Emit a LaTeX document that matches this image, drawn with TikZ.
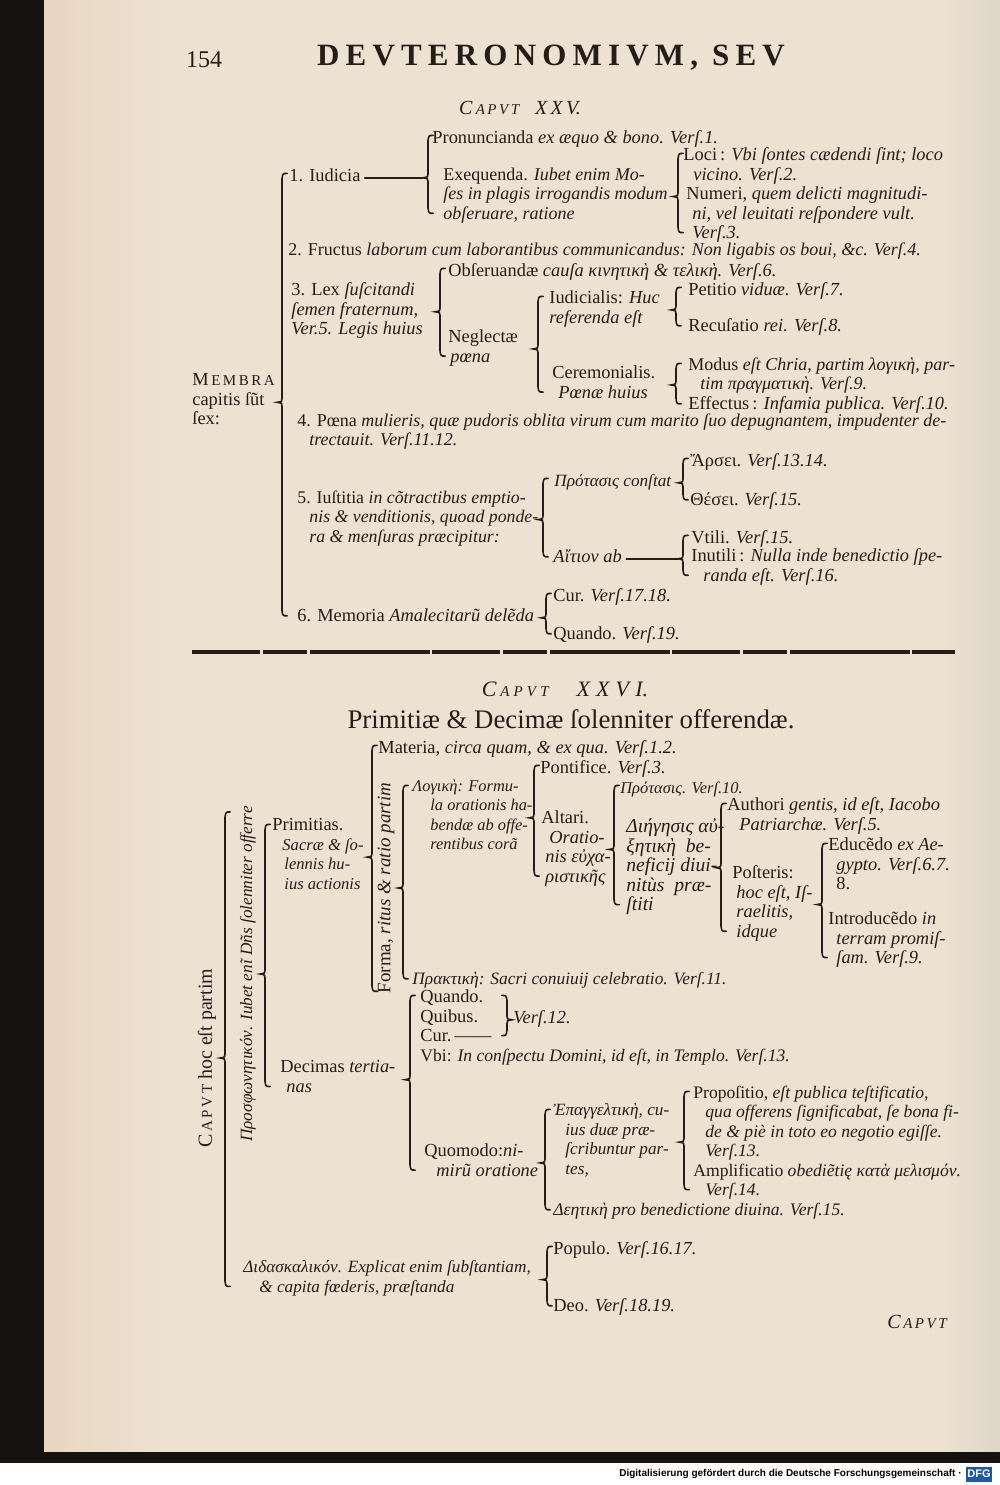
\documentclass[tikz,border=0pt]{standalone}
\usepackage{fontspec}
\setmainfont{Liberation Serif}
\newfontfamily\footfont{Liberation Sans}
\usepackage{tikz}
\usetikzlibrary{calc}

\definecolor{paper}{RGB}{237,226,210}
\definecolor{ink}{RGB}{38,28,24}
\definecolor{spine}{RGB}{22,18,16}
\definecolor{dfgblue}{RGB}{28,88,168}

% brace: x, top anchor, bottom anchor, tip anchor
\newcommand\lbrc[4]{%
  \draw[brc] let \p4=(#1,0), \p1=(#2), \p2=(#3), \p3=(#4) in
    (\x4+2.6pt,\y1-3pt) .. controls (\x4+0.4pt,\y1-3pt) .. (\x4,\y1-5.6pt)
    -- (\x4,\y3+1.8pt) .. controls (\x4,\y3+0.4pt) .. (\x4-2.4pt,\y3)
    .. controls (\x4,\y3-0.4pt) .. (\x4,\y3-1.8pt)
    -- (\x4,\y2+8.8pt) .. controls (\x4+0.4pt,\y2+6.2pt) .. (\x4+2.6pt,\y2+6.2pt);}
\newcommand\rbrc[4]{%
  \draw[brc] let \p4=(#1,0), \p1=(#2), \p2=(#3), \p3=(#4) in
    (\x4-2.6pt,\y1-3pt) .. controls (\x4-0.4pt,\y1-3pt) .. (\x4,\y1-5.6pt)
    -- (\x4,\y3+1.8pt) .. controls (\x4,\y3+0.4pt) .. (\x4+2.4pt,\y3)
    .. controls (\x4,\y3-0.4pt) .. (\x4,\y3-1.8pt)
    -- (\x4,\y2+8.8pt) .. controls (\x4-0.4pt,\y2+6.2pt) .. (\x4-2.6pt,\y2+6.2pt);}
\newcommand\smcap[1]{{\fontsize{7.5}{8}\selectfont #1}}
\newcommand\fs[1]{\fontsize{#1}{9.75}\selectfont}

\begin{document}
\begin{tikzpicture}[ x = 0.5pt, y = -0.5pt
                     , every node/.style = { inner sep = 0pt, text = ink }
                     , txt/.style = { anchor = north west
                                    , align = left
                                    , yshift = 3.8pt
                                    , font = \fs{9.2}
                                    , execute at begin node = \rule{0pt}{7pt}
                                    , execute at end node = \rule[-3pt]{0pt}{3pt} }
                     , vtxt/.style = { anchor = center, rotate = 90, font = \fs{9.5} }
                     , brc/.style = { draw = ink, line width = 0.8pt, line cap = round }
                     ]

  \useasboundingbox (0,0) rectangle (1000,1485);

  % page
  \fill[paper] (0,0) rectangle (1000,1452);
  \shade[left color = paper!88!brown, right color = paper] (44,0) rectangle (170,1452);
  \shade[left color = paper, right color = paper!88!gray] (940,0) rectangle (1000,1452);
  \fill[spine] (0,0) rectangle (44,1463);
  \fill[spine] (0,1452) rectangle (1000,1463);
  \fill[white] (0,1463) rectangle (1000,1485);
  \node[anchor = east, text = black, font = \footfont\bfseries\fontsize{5}{6}\selectfont]
    (dfgtext) at (962,1474) {Digitalisierung gefördert durch die Deutsche Forschungsgemeinschaft ·};
  \node[fill = dfgblue, text = white, minimum width = 13pt, minimum height = 7.5pt,
        font = \footfont\bfseries\fontsize{5.5}{6}\selectfont] (dfglogo) at (979,1474) {DFG};

  % running head
  \node[font = \fontsize{12}{12}\selectfont] (pageno) at (204,60) {154};
  \node[font = \bfseries\fontsize{15.5}{16}\selectfont\addfontfeature{LetterSpace=20}] (runhead) at (551,58)
    {DEVTERONOMIVM, SEV};

  % Caput XXV
  \node[font = \itshape\fontsize{10}{10}\selectfont] (cap25) at (520,108)
    {C\,\smcap{A\,P\,V\,T}\hspace{8pt}X\,X\,V.};

  \node[txt] (membra) at (192,381) {M\smcap{\,E\,M\,B\,R\,A}\\capitis ſũt\\ſex:};
  \node[txt] (i1) at (289,175) {1. Iudicia};
  \node[txt] (pron) at (432,137) {Pronuncianda \textit{ex æquo \& bono. Verſ.1.}};
  \node[txt, font = \fs{9}] (exeq) at (443,175) {Exequenda. \textit{Iubet enim Mo-}\\\textit{ſes in plagis irrogandis modum}\\\textit{obſeruare, ratione}};
  \node[txt] (loci) at (683,155) {Loci\,: \textit{Vbi ſontes cædendi ſint; loco}\\\hspace*{5pt}\textit{vicino. Verſ.2.}};
  \node[txt] (numeri) at (686,194) {Numeri, \textit{quem delicti magnitudi-}\\\hspace*{3pt}\textit{ni, vel leuitati reſpondere vult.}\\\hspace*{3pt}\textit{Verſ.3.}};
  \node[txt, font = \fs{9}] (i2) at (288,249) {2. Fructus \textit{laborum cum laborantibus communicandus: Non ligabis os boui, \&c. Verſ.4.}};
  \node[txt] (lex) at (291,290) {3. Lex \textit{ſuſcitandi}\\\textit{ſemen fraternum,}\\\textit{Ver.5. Legis huius}};
  \node[txt] (obs) at (448,270) {Obſeruandæ \textit{cauſa κινητικὴ \& τελικὴ. Verſ.6.}};
  \node[txt] (negl) at (448,337) {Neglectæ\\\hspace*{1pt}\textit{pœna}};
  \node[txt] (iudic) at (549,298) {Iudicialis: \textit{Huc}\\\textit{referenda eſt}};
  \node[txt] (petit) at (688,289) {Petitio \textit{viduæ. Verſ.7.}};
  \node[txt] (recus) at (688,325) {Recuſatio \textit{rei. Verſ.8.}};
  \node[txt] (cerem) at (552,373) {Ceremonialis.\\\hspace*{3pt}\textit{Pœnæ huius}};
  \node[txt, font = \fs{9}] (modus) at (688,365) {Modus \textit{eſt Chria, partim λογικὴ, par-}\\\hspace*{6pt}\textit{tim πραγματικὴ. Verſ.9.}};
  \node[txt] (effect) at (688,403) {Effectus\,: \textit{Infamia publica. Verſ.10.}};
  \node[txt, font = \fs{9}] (i4) at (297,421) {4. Pœna \textit{mulieris, quæ pudoris oblita virum cum marito ſuo depugnantem, impudenter de-}\\\hspace*{6pt}\textit{trectauit. Verſ.11.12.}};
  \node[txt, font = \fs{8.9}] (i5) at (297,498) {5. Iuſtitia \textit{in cõtractibus emptio-}\\\hspace*{6pt}\textit{nis \& venditionis, quoad ponde-}\\\hspace*{6pt}\textit{ra \& menſuras præcipitur:}};
  \node[txt, font = \fs{8.6}] (prot) at (554,480) {\textit{Πρότασις conſtat}};
  \node[txt] (arsi) at (690,460) {Ἄρσει. \textit{Verſ.13.14.}};
  \node[txt] (thesi) at (690,499) {Θέσει. \textit{Verſ.15.}};
  \node[txt] (aition) at (553,556) {\textit{Αἴτιον ab}};
  \node[txt] (utili) at (691,537) {Vtili. \textit{Verſ.15.}};
  \node[txt] (inutili) at (691,556) {Inutili\,: \textit{Nulla inde benedictio ſpe-}\\\hspace*{6pt}\textit{randa eſt. Verſ.16.}};
  \node[txt] (i6) at (297,615) {6. Memoria \textit{Amalecitarũ delẽda}};
  \node[txt] (cur) at (553,595) {Cur. \textit{Verſ.17.18.}};
  \node[txt] (quand) at (553,633) {Quando. \textit{Verſ.19.}};

  \lbrc{282}{i1.north}{i6.south}{membra.east}
  \lbrc{428}{pron.north}{exeq.south}{i1.east}
  \lbrc{678}{loci.north}{numeri.south}{exeq.east}
  \lbrc{440}{obs.north}{negl.south}{lex.east}
  \lbrc{538}{iudic.north}{cerem.south}{negl.east}
  \lbrc{676}{petit.north}{recus.south}{iudic.east}
  \lbrc{676}{modus.north}{effect.south}{cerem.east}
  \lbrc{543}{prot.north}{aition.south}{i5.east}
  \lbrc{683}{arsi.north}{thesi.south}{prot.east}
  \lbrc{683}{utili.north}{inutili.south}{aition.east}
  \lbrc{546}{cur.north}{quand.south}{i6.east}
  \draw[brc, shorten <= 2pt, shorten >= 4.5pt] (i1.east) -- (i1.east -| pron.west);
  \draw[brc, shorten <= 2pt, shorten >= 6.5pt] (aition.east) -- (aition.east -| inutili.west);

  % rule between the chapters
  \draw[ink, line width = 2pt, dash pattern = on 34pt off 1.5pt on 22pt off 1.5pt on 60pt off 1pt]
    (192,652) -- (955,652);

  % Caput XXVI
  \node[font = \itshape\fontsize{11}{11}\selectfont] (cap26) at (565,689)
    {C\,\smcap{A\;P\;V\;T}\hspace{14pt}X\;X\;V\;I.};
  \node[font = \fontsize{13.4}{14}\selectfont] (title26) at (571,719)
    {Primitiæ \& Decimæ ſolenniter offerendæ.};

  \node[vtxt, font = \fontsize{10}{10}\selectfont] (root) at (207,1058) {C\smcap{\,A\,P\,V\,T} hoc eſt partim};
  \node[vtxt, font = \itshape\fontsize{8.6}{9}\selectfont] (prosf) at (248,974) {Προσφωνητικόν. Iubet enĩ Dñs ſolenniter offerre};
  \node[txt] (prim) at (272,826) {Primitias.\\\hspace*{5pt}\textit{\fs{8.3}Sacræ \& ſo-}\\\hspace*{6pt}\textit{\fs{8.3}lennis hu-}\\\hspace*{6pt}\textit{\fs{8.3}ius actionis}};
  \node[txt] (decim) at (280,1068) {Decimas \textit{tertia-}\\\hspace*{3pt}\textit{nas}};
  \node[txt, font = \fs{8.6}] (didask) at (243,1268) {\textit{Διδασκαλικόν. Explicat enim ſubſtantiam,}\\\hspace*{8pt}\textit{\& capita fœderis, præſtanda}};
  \node[txt] (materia) at (378,747) {Materia, \textit{circa quam, \& ex qua. Verſ.1.2.}};
  \node[vtxt] (forma) at (386,888) {Forma, \textit{ritus \& ratio partim}};
  \node[txt, font = \fs{8.2}] (logike) at (412,787) {\textit{Λογικὴ: Formu-}\\\hspace*{9pt}\textit{la orationis ha-}\\\hspace*{9pt}\textit{bendæ ab offe-}\\\hspace*{9pt}\textit{rentibus corã}};
  \node[txt] (pontif) at (540,767) {Pontifice. \textit{Verſ.3.}};
  \node[txt] (altari) at (541,818) {Altari.\\\hspace*{4pt}\textit{Oratio-}\\\hspace*{2pt}\textit{nis εὐχα-}\\\hspace*{2pt}\textit{ριστικῆς}};
  \node[txt, font = \fs{8.2}] (protasis) at (620,787) {\textit{Πρότασις. Verſ.10.}};
  \node[txt, font = \fs{9.8}] (dieg) at (626,826) {\textit{Διήγησις αὐ-}\\\textit{ξητικὴ \ be-}\\\textit{neficij diui-}\\\textit{nitùs \ præ-}\\\textit{ſtiti}};
  \node[txt] (auth) at (727,805) {Authori \textit{gentis, id eſt, Iacobo}\\\hspace*{6pt}\textit{Patriarchæ. Verſ.5.}};
  \node[txt] (poster) at (732,873) {Poſteris:\\\hspace*{2pt}\textit{hoc eſt, Iſ-}\\\hspace*{2pt}\textit{raelitis,}\\\hspace*{2pt}\textit{idque}};
  \node[txt] (educ) at (828,845) {Educẽdo \textit{ex Ae-}\\\hspace*{4pt}\textit{gypto. Verſ.6.7.}\\\hspace*{4pt}8.};
  \node[txt] (introd) at (828,919) {Introducẽdo \textit{in}\\\hspace*{4pt}\textit{terram promiſ-}\\\hspace*{4pt}\textit{ſam. Verſ.9.}};
  \node[txt, font = \fs{8.7}] (prakt) at (412,978) {\textit{Πρακτικὴ: Sacri conuiuij celebratio. Verſ.11.}};
  \node[txt] (qqc) at (420,997) {Quando.\\Quibus.\\Cur.\,——};
  \node[txt] (v12) at (513,1017) {\textit{Verſ.12.}};
  \node[txt, font = \fs{8.8}] (vbi) at (420,1055) {Vbi: \textit{In conſpectu Domini, id eſt, in Templo. Verſ.13.}};
  \node[txt] (quomodo) at (424,1151) {Quomodo:\textit{ni-}\\\hspace*{6pt}\textit{mirũ oratione}};
  \node[txt, font = \fs{8.6}] (epang) at (553,1111) {\textit{Ἐπαγγελτικὴ, cu-}\\\hspace*{6pt}\textit{ius duæ præ-}\\\hspace*{6pt}\textit{ſcribuntur par-}\\\hspace*{6pt}\textit{tes,}};
  \node[txt, font = \fs{8.8}] (propos) at (693,1093) {Propoſitio, \textit{eſt publica teſtificatio,}\\\hspace*{6pt}\textit{qua offerens ſignificabat, ſe bona fi-}\\\hspace*{6pt}\textit{de \& piè in toto eo negotio egiſſe.}\\\hspace*{6pt}\textit{Verſ.13.}};
  \node[txt, font = \fs{8.8}] (ampl) at (693,1171) {Amplificatio \textit{obediẽtię κατὰ μελισμόν.}\\\hspace*{6pt}\textit{Verſ.14.}};
  \node[txt, font = \fs{8.8}] (deet) at (553,1209) {\textit{Δεητικὴ pro benedictione diuina. Verſ.15.}};
  \node[txt] (populo) at (553,1248) {Populo. \textit{Verſ.16.17.}};
  \node[txt] (deo) at (553,1305) {Deo. \textit{Verſ.18.19.}};

  \lbrc{225}{prosf.east}{didask.south}{root.south}
  \lbrc{265}{prim.north}{decim.south}{prosf.south}
  \lbrc{372}{materia.north}{[yshift=-5pt]forma.west}{prim.east}
  \lbrc{403}{logike.north}{prakt.south}{forma.south}
  \lbrc{534}{pontif.north}{altari.south}{logike.east}
  \lbrc{614}{protasis.north}{dieg.south}{altari.east}
  \lbrc{721}{auth.north}{poster.south}{dieg.east}
  \lbrc{822}{educ.north}{introd.south}{poster.east}
  \lbrc{410}{qqc.north}{quomodo.south}{decim.east}
  \rbrc{507}{qqc.north}{qqc.south}{v12.west}
  \lbrc{545}{epang.north}{deet.south}{quomodo.east}
  \lbrc{684}{propos.north}{ampl.south}{epang.east}
  \lbrc{547}{populo.north}{deo.south}{didask.east}

  \node[font = \itshape\fontsize{10}{10}\selectfont] (custos) at (917,1322) {C\smcap{\,A\,P\,V\,T}};

\end{tikzpicture}
\end{document}
